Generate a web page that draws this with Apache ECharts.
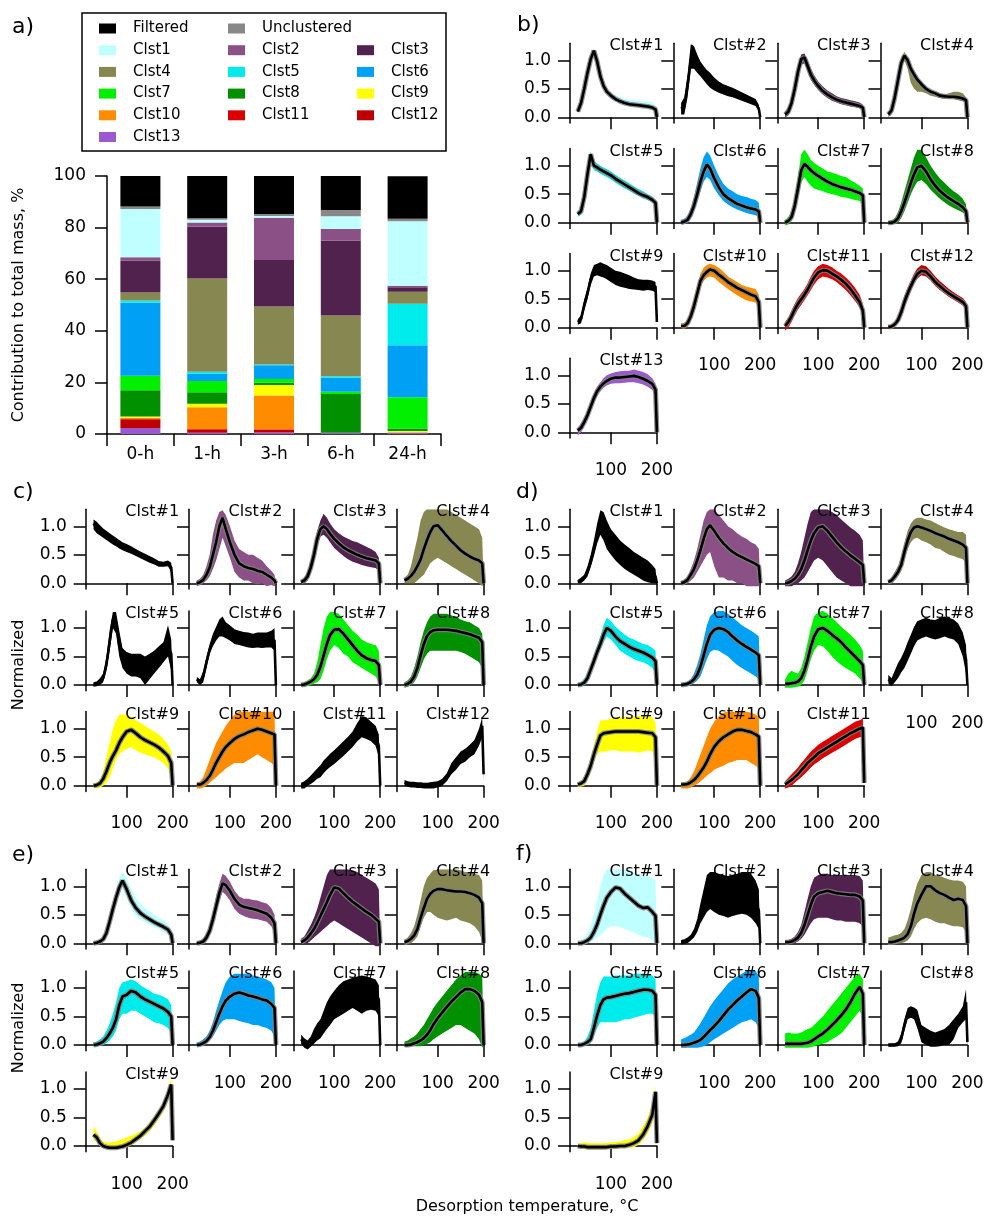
<!DOCTYPE html>
<html>
<head>
<meta charset="utf-8">
<title>Cluster contributions and thermograms</title>
<script src="https://cdn.jsdelivr.net/npm/echarts@6/dist/echarts.min.js"></script>
<style>
  html, body { margin: 0; padding: 0; background: #fff; }
  #chart { width: 989px; height: 1216px; }
</style>
</head>
<body>
<div id="chart"></div>
<script>
const FONT = 'DejaVu Sans';

// ---------- a) mass contributions (%) per sampling time ----------
const times = ['0-h', '1-h', '3-h', '6-h', '24-h'];
const shareClst13 = [2.3, 0.5, 0.6, 0.5, 0.5];
const shareClst12 = [3.2, 1.2, 1.0, 0, 0];
const shareClst11 = [0.3, 0.2, 0.2, 0, 0];
const shareClst10 = [0.5, 8.5, 13.1, 0, 0.2];
const shareClst9  = [0.5, 1.3, 4.1, 0, 0.5];
const shareClst8  = [10.2, 4.5, 0.9, 15.0, 0.9];
const shareClst7  = [5.6, 4.3, 1.4, 0.9, 12.1];
const shareClst6  = [28.3, 2.9, 5.3, 5.4, 20.2];
const shareClst5  = [0.8, 0.7, 0.3, 0.6, 16.1];
const shareClst4  = [3.1, 36.2, 22.5, 23.5, 4.6];
const shareClst3  = [12.4, 20.0, 18.0, 29.0, 1.8];
const shareClst2  = [1.3, 1.7, 16.4, 4.6, 0.6];
const shareClst1  = [18.7, 1.0, 0.7, 4.9, 25.0];
const shareUnclustered = [1.0, 0.6, 0.8, 2.4, 0.9];
const shareFiltered    = [11.8, 16.4, 14.7, 13.2, 16.5];

const K = '#000000';
const C1 = '#c0ffff', C2 = '#8b5086', C3 = '#52224f', C4 = '#878752', C5 = '#00ebeb',
      C6 = '#00a0f5', C7 = '#00f000', C8 = '#009000', C9 = '#ffff00', C10 = '#ff8c00',
      C11 = '#dd0000', C12 = '#c00000', C13 = '#9b59d0', CU = '#888888';

// stacking order, bottom to top
const stackNames  = ['Clst13','Clst12','Clst11','Clst10','Clst9','Clst8','Clst7','Clst6','Clst5','Clst4','Clst3','Clst2','Clst1','Unclustered','Filtered'];
const stackValues = [shareClst13, shareClst12, shareClst11, shareClst10, shareClst9, shareClst8, shareClst7, shareClst6, shareClst5, shareClst4, shareClst3, shareClst2, shareClst1, shareUnclustered, shareFiltered];
const stackColors = [C13, C12, C11, C10, C9, C8, C7, C6, C5, C4, C3, C2, C1, CU, K];

// ---------- b)-f) normalized thermograms ----------
// desorption temperature grid (°C)
const T = [28,35,42,49,56,63,70,77,84,91,100,110,120,130,140,150,160,170,180,190,197,200];

// b) smoothed signal, lower / upper envelope of the raw trace
const bMid = [
 [.1,.25,.5,.78,1.02,1.17,.98,.72,.55,.45,.38,.32,.28,.25,.23,.22,.21,.2,.19,.17,.14,0],
 [.15,.2,.55,1.0,1.05,.92,.85,.78,.7,.65,.58,.52,.48,.45,.42,.38,.35,.32,.28,.25,.15,0],
 [.05,.1,.25,.5,.8,1.02,1.05,.9,.75,.65,.55,.46,.4,.35,.31,.28,.26,.24,.22,.2,.17,0],
 [.05,.12,.35,.65,.95,1.08,1.0,.85,.75,.66,.58,.5,.45,.42,.38,.37,.36,.36,.35,.33,.3,0],
 [.15,.2,.45,.85,1.2,1.0,.97,.93,.9,.87,.83,.77,.72,.67,.62,.57,.52,.48,.45,.4,.35,0],
 [0,.02,.05,.15,.3,.5,.72,.9,1.02,.95,.78,.62,.5,.43,.38,.33,.3,.27,.25,.23,.2,0],
 [0,.03,.1,.3,.6,.92,1.03,.98,.92,.87,.82,.77,.72,.68,.65,.62,.6,.58,.55,.52,.48,0],
 [0,0,.02,.08,.2,.35,.52,.7,.85,.97,1.0,.9,.76,.65,.56,.49,.43,.38,.33,.27,.2,0],
 [.1,.15,.4,.6,.85,1.0,1.02,1.03,1.0,.98,.93,.88,.85,.82,.8,.78,.76,.75,.76,.75,.72,.1],
 [.03,.03,.08,.2,.38,.6,.82,.92,.98,1.02,1.0,.93,.87,.8,.75,.7,.66,.62,.58,.55,.45,0],
 [.03,.1,.2,.32,.42,.5,.58,.67,.78,.88,.97,1.01,1.0,.95,.9,.84,.77,.68,.57,.45,.3,0],
 [.01,.02,.06,.13,.27,.45,.6,.73,.85,.94,1.0,.98,.9,.8,.73,.66,.6,.55,.5,.45,.38,0],
 [.03,.08,.18,.3,.45,.6,.72,.8,.86,.9,.94,.96,.96,.97,.98,.99,.97,.94,.9,.85,.75,0]
];
const bLo = [
 [.05,.2,.45,.73,.97,1.12,.93,.68,.5,.41,.34,.29,.25,.22,.2,.19,.18,.17,.16,.14,.11,0],
 [.05,.05,.35,.85,.85,.78,.72,.65,.58,.52,.47,.43,.4,.37,.35,.32,.29,.26,.23,.2,.1,0],
 [0,.03,.15,.4,.7,.92,.95,.8,.66,.57,.48,.4,.34,.29,.26,.23,.21,.19,.18,.16,.13,0],
 [0,.05,.25,.55,.85,1.0,.85,.6,.5,.45,.45,.42,.38,.36,.34,.32,.32,.32,.3,.28,.25,0],
 [.1,.15,.4,.8,1.1,.92,.9,.86,.83,.8,.76,.7,.65,.6,.56,.51,.47,.43,.4,.36,.3,0],
 [-.03,-.02,0,.08,.2,.38,.55,.72,.8,.75,.6,.48,.38,.32,.27,.23,.2,.17,.15,.13,.1,0],
 [-.05,-.03,.03,.18,.45,.7,.8,.72,.65,.6,.58,.55,.52,.5,.48,.45,.44,.42,.4,.38,.3,0],
 [-.03,-.03,-.02,0,.08,.2,.35,.5,.62,.72,.75,.68,.58,.5,.42,.36,.3,.26,.22,.18,.12,0],
 [.05,.08,.3,.5,.75,.9,.92,.9,.88,.85,.8,.75,.72,.7,.68,.67,.66,.65,.66,.65,.62,.05],
 [0,-.02,.02,.12,.3,.5,.72,.82,.88,.9,.88,.8,.74,.68,.62,.57,.52,.48,.46,.44,.35,0],
 [-.05,0,.1,.22,.32,.4,.48,.57,.66,.76,.85,.9,.88,.85,.8,.73,.66,.57,.47,.36,.22,0],
 [-.02,-.02,.02,.08,.2,.37,.52,.65,.77,.86,.92,.9,.83,.73,.66,.6,.54,.49,.44,.39,.32,0],
 [-.05,0,.1,.22,.37,.52,.64,.72,.78,.82,.85,.86,.86,.87,.88,.88,.86,.84,.8,.74,.6,0]
];
const bHi = [
 [.15,.3,.55,.83,1.07,1.2,1.03,.78,.6,.5,.44,.39,.35,.32,.31,.3,.29,.28,.28,.27,.2,0],
 [.25,.35,.75,1.28,1.25,1.1,.98,.9,.83,.78,.7,.63,.58,.55,.52,.48,.44,.4,.36,.32,.22,0],
 [.1,.18,.35,.62,.92,1.1,1.12,1.0,.85,.74,.63,.54,.47,.42,.37,.34,.32,.3,.28,.26,.22,0],
 [.1,.18,.45,.75,1.05,1.15,1.05,.92,.8,.7,.6,.53,.48,.45,.42,.4,.42,.45,.45,.42,.35,0],
 [.2,.28,.52,.92,1.25,1.08,1.04,1.0,.97,.94,.9,.84,.79,.74,.69,.64,.59,.55,.5,.46,.4,0],
 [.05,.07,.12,.25,.45,.7,.95,1.15,1.25,1.18,1.0,.82,.68,.6,.55,.5,.47,.45,.42,.4,.35,0],
 [.05,.1,.2,.45,.8,1.2,1.28,1.2,1.1,1.05,1.0,.95,.9,.88,.85,.82,.8,.75,.7,.65,.6,0],
 [.03,.04,.08,.18,.35,.55,.75,.95,1.15,1.28,1.28,1.15,1.0,.88,.78,.7,.62,.55,.5,.42,.32,0],
 [.15,.22,.5,.7,.95,1.1,1.12,1.15,1.12,1.1,1.05,1.0,.98,.95,.92,.88,.85,.84,.84,.83,.8,.15],
 [.08,.08,.15,.3,.48,.72,.95,1.05,1.1,1.12,1.1,1.05,.98,.9,.85,.8,.75,.72,.7,.68,.58,0],
 [.1,.18,.3,.42,.52,.6,.68,.78,.9,1.0,1.08,1.12,1.1,1.06,1.0,.95,.88,.8,.7,.58,.42,0],
 [.04,.05,.1,.2,.35,.55,.7,.82,.95,1.04,1.1,1.08,1.0,.9,.82,.75,.68,.62,.57,.52,.45,0],
 [.08,.15,.25,.38,.53,.68,.8,.88,.95,1.0,1.03,1.06,1.07,1.08,1.08,1.1,1.08,1.06,1.02,.95,.85,0]
];
const bBand = [C1, K, C3, C4, C5, C6, C7, C8, K, C10, C11, C12, C13];

// c)
const cMid = [
 [1.05,.97,.92,.88,.84,.8,.75,.72,.68,.65,.62,.58,.54,.5,.46,.42,.38,.34,.33,.35,.28,0],
 [0,.02,.06,.15,.28,.5,.72,1.0,1.15,.95,.72,.5,.35,.3,.27,.25,.22,.2,.15,.1,.05,0],
 [.02,.05,.12,.28,.5,.78,.95,1.0,.95,.87,.78,.7,.63,.58,.54,.5,.47,.44,.42,.4,.35,0],
 [.05,.08,.13,.2,.3,.42,.6,.76,.9,1.0,1.02,.93,.83,.74,.66,.58,.52,.47,.43,.4,.35,0],
 [0,.02,.05,.12,.35,.75,1.15,1.1,.7,.48,.4,.38,.36,.35,.32,.35,.42,.5,.58,.7,.55,0],
 [.1,.05,.15,.4,.62,.78,.88,.98,1.0,.95,.9,.85,.82,.8,.8,.78,.8,.78,.8,.8,.78,0],
 [0,.01,.03,.06,.1,.18,.32,.52,.72,.88,.97,.98,.9,.8,.7,.6,.52,.47,.44,.42,.35,0],
 [0,.02,.06,.15,.3,.52,.72,.86,.93,.96,.97,.97,.97,.96,.95,.93,.91,.89,.86,.83,.75,0],
 [0,.01,.04,.12,.25,.4,.52,.62,.75,.85,.95,.98,.92,.85,.8,.76,.72,.67,.6,.52,.4,0],
 [.02,.02,.05,.1,.17,.28,.4,.5,.6,.68,.75,.82,.87,.9,.94,.97,1.0,.98,.95,.92,.9,0],
 [0,.02,.06,.1,.15,.2,.25,.32,.38,.44,.5,.57,.64,.72,.8,.92,1.02,1.0,.95,.88,.7,0],
 [.05,.03,.02,.02,.01,.01,0,0,0,0,.02,.05,.15,.3,.4,.5,.55,.62,.7,.85,1.05,.2]
];
const cLo = [
 [.95,.88,.84,.8,.76,.72,.68,.65,.61,.58,.55,.52,.48,.44,.4,.36,.33,.29,.29,.3,.2,0],
 [-.05,-.03,0,.05,.12,.25,.4,.6,.8,.65,.45,.2,.1,.05,.05,0,-.02,0,-.05,-.03,-.05,0],
 [-.02,0,.05,.18,.38,.65,.82,.85,.8,.72,.62,.55,.48,.42,.38,.35,.32,.3,.28,.27,.22,0],
 [0,0,0,0,.05,.1,.15,.25,.35,.4,.45,.4,.35,.3,.25,.2,.15,.1,.05,0,-.05,0],
 [-.03,-.02,0,.05,.25,.6,1.0,.9,.5,.3,.2,.15,.15,.12,0,.1,.2,.3,.4,.5,.25,0],
 [.05,0,.05,.3,.55,.68,.78,.85,.85,.82,.78,.72,.7,.68,.66,.65,.66,.65,.66,.66,.6,0],
 [-.03,-.03,-.02,0,.02,.05,.1,.25,.45,.6,.7,.65,.55,.5,.4,.35,.3,.25,.2,.15,.05,0],
 [-.05,-.03,0,.05,.15,.3,.45,.55,.6,.6,.6,.6,.6,.6,.6,.58,.55,.5,.45,.4,.3,0],
 [-.05,-.05,-.03,0,.05,.15,.3,.45,.55,.6,.65,.68,.62,.58,.55,.52,.5,.45,.4,.3,.15,0],
 [-.05,-.05,-.03,0,.05,.1,.15,.2,.25,.3,.35,.4,.4,.4,.45,.5,.55,.5,.45,.4,.35,0],
 [-.05,-.05,0,.03,.07,.12,.15,.22,.28,.33,.38,.45,.52,.6,.68,.78,.85,.82,.78,.7,.5,0],
 [0,-.02,-.03,-.03,-.04,-.04,-.05,-.05,-.05,-.05,-.03,0,.08,.2,.28,.38,.42,.5,.55,.7,.85,.1]
];
const cHi = [
 [1.12,1.08,1.02,.96,.92,.88,.84,.8,.76,.72,.69,.65,.6,.56,.52,.48,.44,.39,.38,.4,.36,0],
 [.05,.08,.15,.3,.5,.85,1.1,1.25,1.28,1.2,1.0,.75,.6,.55,.5,.5,.45,.4,.3,.22,.15,0],
 [.06,.1,.2,.4,.65,.92,1.1,1.22,1.15,1.05,.95,.88,.82,.78,.74,.72,.68,.64,.6,.55,.45,0],
 [.1,.15,.3,.55,.8,1.1,1.25,1.3,1.3,1.3,1.3,1.3,1.3,1.25,1.2,1.15,1.1,1.05,1.0,.95,.8,0],
 [.05,.06,.12,.2,.5,.95,1.28,1.28,.95,.65,.58,.55,.55,.55,.5,.55,.6,.68,.75,1.05,.8,0],
 [.14,.1,.25,.5,.72,.9,1.02,1.15,1.2,1.1,1.05,.98,.95,.93,.92,.9,.92,.92,.92,.95,1.0,0],
 [.03,.05,.08,.12,.2,.4,.7,1.0,1.2,1.28,1.28,1.25,1.15,1.05,.95,.88,.8,.75,.72,.7,.6,0],
 [.05,.08,.15,.3,.5,.75,.95,1.1,1.2,1.25,1.25,1.25,1.25,1.22,1.2,1.15,1.12,1.1,1.05,1.0,.9,0],
 [.04,.06,.1,.25,.5,.75,1.0,1.15,1.25,1.25,1.25,1.2,1.15,1.1,1.05,1.0,.95,.9,.82,.72,.6,0],
 [.05,.08,.15,.3,.45,.6,.75,.85,.95,1.05,1.15,1.25,1.3,1.3,1.3,1.3,1.3,1.3,1.3,1.3,1.3,0],
 [.05,.08,.12,.18,.24,.3,.36,.44,.5,.56,.62,.7,.78,.86,.95,1.1,1.22,1.2,1.12,1.05,.9,0],
 [.1,.08,.07,.07,.06,.06,.05,.05,.06,.07,.08,.12,.22,.4,.5,.6,.65,.72,.8,1.0,1.2,.3]
];
const cBand = [K, C2, C3, C4, K, K, C7, C8, C9, C10, K, K];

// d)
const dMid = [
 [.03,.05,.1,.2,.38,.6,.85,1.05,1.0,.88,.76,.65,.55,.48,.42,.36,.32,.28,.24,.18,.12,0],
 [0,.02,.06,.15,.25,.4,.58,.78,.95,1.02,.92,.8,.7,.62,.55,.5,.46,.42,.38,.34,.3,0],
 [0,.01,.04,.08,.15,.25,.4,.58,.75,.88,.98,1.0,.92,.82,.72,.63,.56,.49,.43,.37,.32,0],
 [.02,.05,.12,.2,.32,.55,.75,.9,.98,1.0,.98,.95,.92,.88,.85,.82,.78,.75,.72,.68,.62,0],
 [0,.01,.04,.12,.27,.42,.58,.72,.88,1.0,.95,.85,.77,.72,.67,.63,.6,.57,.53,.48,.42,0],
 [0,.01,.02,.05,.1,.18,.32,.52,.72,.88,.97,1.0,.98,.93,.85,.78,.72,.67,.62,.57,.52,0],
 [.02,.02,.03,.04,.06,.12,.25,.45,.68,.85,.98,1.0,.95,.88,.82,.75,.66,.58,.5,.42,.35,0],
 [.1,.05,.15,.25,.35,.45,.58,.72,.85,.95,.98,1.0,.98,.97,1.0,1.02,1.0,.98,.9,.72,.45,0],
 [.02,.04,.08,.2,.35,.55,.72,.88,.92,.93,.94,.95,.95,.95,.95,.95,.95,.94,.93,.92,.85,0],
 [.02,.02,.03,.06,.1,.16,.24,.32,.42,.55,.68,.78,.85,.9,.95,.98,.98,.96,.94,.9,.86,0],
 [.02,.06,.1,.15,.2,.27,.33,.4,.45,.5,.57,.62,.67,.72,.77,.82,.87,.92,.96,1.0,1.02,.05]
];
const dLo = [
 [0,0,.05,.12,.28,.48,.7,.85,.75,.6,.5,.4,.32,.25,.2,.15,.1,.05,.02,0,0,0],
 [-.03,-.02,0,.05,.1,.2,.3,.4,.5,.55,.3,.1,.1,.05,.05,0,0,-.05,-.05,-.05,-.05,0],
 [-.05,-.05,-.05,-.02,0,.05,.1,.2,.3,.4,.45,.4,.3,.2,.1,.05,0,-.05,-.05,-.05,-.05,0],
 [-.02,0,.05,.12,.22,.42,.6,.72,.78,.8,.75,.72,.68,.62,.6,.55,.5,.48,.45,.42,.35,0],
 [-.02,-.02,0,.06,.2,.35,.5,.62,.75,.85,.8,.7,.6,.55,.5,.45,.42,.4,.36,.3,.2,0],
 [-.03,-.03,-.02,0,.03,.08,.15,.3,.45,.58,.62,.6,.55,.5,.42,.35,.3,.25,.2,.15,.1,0],
 [-.05,-.05,-.05,-.04,-.03,0,.08,.25,.45,.6,.7,.68,.6,.5,.42,.35,.3,.25,.2,.12,.05,0],
 [.03,-.02,.05,.12,.22,.3,.42,.55,.68,.78,.82,.85,.82,.8,.82,.85,.82,.8,.72,.5,.2,0],
 [-.03,-.02,0,.1,.25,.42,.55,.6,.6,.6,.62,.62,.6,.6,.6,.6,.58,.6,.62,.6,.45,0],
 [-.05,-.05,-.05,-.03,0,.03,.08,.12,.18,.22,.28,.32,.35,.4,.42,.45,.45,.45,.4,.35,.3,0],
 [-.05,-.03,0,.05,.1,.15,.2,.26,.32,.37,.42,.48,.53,.58,.62,.67,.72,.77,.82,.85,.85,0]
];
const dHi = [
 [.06,.1,.15,.3,.5,.75,1.05,1.28,1.25,1.1,.95,.85,.75,.68,.62,.55,.5,.45,.4,.32,.25,0],
 [.04,.06,.12,.25,.4,.6,.85,1.1,1.25,1.3,1.3,1.2,1.1,1.0,.95,.88,.82,.78,.72,.68,.6,0],
 [.05,.08,.12,.2,.35,.55,.8,1.05,1.25,1.3,1.3,1.3,1.3,1.25,1.2,1.12,1.05,.98,.92,.85,.75,0],
 [.05,.1,.2,.3,.45,.7,.92,1.05,1.12,1.15,1.15,1.12,1.1,1.06,1.02,.98,.95,.92,.9,.9,.85,0],
 [.03,.05,.1,.2,.35,.5,.68,.85,1.05,1.18,1.12,1.02,.95,.88,.83,.8,.76,.72,.7,.65,.6,0],
 [.03,.04,.06,.1,.2,.35,.55,.8,1.05,1.2,1.28,1.3,1.3,1.25,1.18,1.12,1.05,1.0,.95,.9,.85,0],
 [.1,.2,.25,.22,.2,.3,.5,.75,1.0,1.2,1.28,1.3,1.25,1.18,1.1,1.02,.95,.88,.8,.7,.6,0],
 [.18,.12,.25,.38,.48,.6,.75,.88,1.02,1.12,1.15,1.18,1.15,1.14,1.18,1.2,1.18,1.15,1.08,.92,.7,0],
 [.06,.08,.15,.3,.48,.7,.95,1.15,1.15,1.15,1.18,1.2,1.2,1.2,1.2,1.22,1.22,1.25,1.25,1.2,1.1,0],
 [.05,.06,.08,.15,.25,.4,.55,.7,.85,1.0,1.12,1.22,1.28,1.3,1.3,1.3,1.3,1.3,1.28,1.25,1.2,0],
 [.08,.14,.2,.26,.32,.4,.46,.53,.6,.65,.72,.77,.82,.87,.92,.97,1.02,1.07,1.12,1.15,1.18,.1]
];
const dBand = [K, C2, C3, C4, C5, C6, C7, K, C9, C10, C11];

// e)
const eMid = [
 [0,.01,.03,.07,.18,.38,.6,.8,.98,1.1,.95,.75,.62,.53,.47,.42,.37,.33,.29,.24,.15,0],
 [0,.01,.03,.1,.22,.42,.65,.88,1.05,1.02,.92,.78,.68,.64,.62,.6,.58,.55,.52,.45,.35,0],
 [.02,.05,.1,.17,.25,.36,.48,.6,.72,.85,.98,.96,.88,.8,.73,.67,.61,.55,.5,.43,.38,0],
 [.02,.04,.08,.14,.25,.45,.62,.78,.87,.92,.95,.95,.93,.92,.91,.91,.9,.88,.85,.8,.7,0],
 [0,.01,.03,.06,.12,.2,.3,.45,.7,.85,.88,.95,.92,.85,.8,.76,.72,.68,.64,.58,.5,0],
 [0,.01,.03,.07,.14,.25,.4,.55,.68,.78,.85,.9,.92,.9,.87,.85,.83,.8,.78,.72,.65,0],
 [.1,.02,-.02,.05,.15,.22,.28,.4,.5,.6,.72,.8,.88,.93,.97,1.0,1.02,.98,.95,.9,.8,0],
 [0,0,.01,.03,.05,.08,.12,.18,.26,.36,.47,.57,.67,.76,.84,.92,.98,.98,.95,.88,.75,0],
 [.2,.15,.05,0,-.02,-.03,-.03,-.03,-.02,-.01,.02,.06,.12,.18,.26,.34,.45,.57,.7,.9,1.08,.1]
];
const eLo = [
 [-.02,-.02,0,.03,.12,.3,.5,.68,.85,.95,.8,.6,.48,.42,.37,.33,.28,.25,.2,.15,.05,0],
 [-.02,-.02,0,.05,.15,.32,.55,.75,.9,.85,.75,.6,.52,.48,.45,.43,.42,.4,.38,.3,.2,0],
 [-.03,-.02,0,.05,.1,.15,.2,.25,.3,.35,.4,.35,.3,.25,.2,.15,.1,.05,0,-.05,-.05,0],
 [-.03,-.02,0,.05,.12,.3,.45,.55,.55,.5,.45,.42,.4,.42,.45,.4,.38,.35,.3,.2,.05,0],
 [-.03,-.02,-.01,0,.03,.08,.15,.25,.45,.55,.55,.6,.6,.55,.5,.45,.4,.38,.35,.3,.2,0],
 [-.03,-.02,0,.03,.08,.15,.25,.35,.42,.45,.45,.45,.42,.4,.38,.35,.35,.32,.3,.25,.15,0],
 [.02,-.05,-.08,-.03,.02,.08,.12,.2,.28,.35,.45,.5,.55,.6,.65,.6,.55,.6,.62,.6,.5,0],
 [-.03,-.03,-.02,-.02,-.02,-.02,0,.02,.05,.1,.15,.2,.25,.3,.35,.35,.3,.25,.2,.1,-.05,0],
 [.1,.08,0,-.04,-.05,-.06,-.06,-.06,-.05,-.04,-.02,.02,.06,.12,.18,.26,.36,.48,.6,.78,.95,0]
];
const eHi = [
 [.03,.04,.06,.12,.25,.48,.72,.95,1.15,1.25,1.15,.95,.8,.7,.62,.56,.5,.45,.4,.34,.25,0],
 [.03,.05,.08,.18,.3,.55,.82,1.05,1.22,1.18,1.08,.92,.82,.78,.78,.76,.75,.72,.7,.62,.5,0],
 [.08,.12,.22,.32,.45,.6,.8,1.0,1.2,1.3,1.3,1.3,1.3,1.3,1.28,1.25,1.2,1.15,1.1,1.05,.95,0],
 [.06,.1,.18,.3,.5,.75,1.0,1.15,1.22,1.28,1.3,1.3,1.3,1.3,1.3,1.28,1.25,1.25,1.22,1.2,1.1,0],
 [.04,.06,.1,.15,.25,.38,.55,.75,1.0,1.1,1.12,1.15,1.12,1.05,1.0,.95,.9,.88,.85,.8,.7,0],
 [.04,.06,.1,.15,.25,.4,.6,.78,.95,1.1,1.2,1.25,1.25,1.25,1.25,1.22,1.2,1.18,1.15,1.1,1.0,0],
 [.18,.12,.08,.15,.28,.38,.45,.6,.75,.85,.95,1.05,1.12,1.15,1.18,1.2,1.22,1.2,1.18,1.15,1.05,0],
 [.06,.08,.12,.15,.2,.28,.35,.45,.55,.65,.75,.85,.95,1.05,1.15,1.22,1.28,1.28,1.28,1.25,1.2,0],
 [.35,.25,.15,.08,.06,.06,.07,.08,.1,.12,.15,.18,.22,.26,.32,.42,.52,.64,.78,1.0,1.2,.2]
];
const eBand = [C1, C2, C3, C4, C5, C6, K, C8, C9];

// f)
const fMid = [
 [0,0,.02,.05,.1,.2,.33,.5,.66,.8,.9,.98,.96,.87,.8,.73,.66,.62,.63,.55,.48,0],
 [.02,.03,.05,.1,.17,.3,.5,.65,.85,.95,.9,.85,.82,.78,.8,.82,.85,.86,.82,.72,.58,0],
 [.02,.02,.03,.06,.1,.18,.32,.5,.68,.82,.88,.9,.92,.9,.88,.87,.86,.85,.85,.82,.75,0],
 [.02,.02,.03,.05,.07,.1,.16,.3,.52,.7,.85,1.0,1.0,.93,.88,.85,.8,.76,.78,.76,.65,0],
 [0,0,.02,.05,.1,.3,.52,.7,.8,.83,.84,.86,.88,.9,.91,.93,.95,.97,.97,.95,.88,0],
 [0,0,.01,.02,.04,.06,.09,.14,.2,.26,.33,.42,.52,.62,.7,.78,.85,.92,.98,.95,.82,0],
 [.02,.02,.02,.02,.02,.02,.03,.04,.06,.1,.15,.2,.27,.35,.43,.52,.62,.75,.9,1.02,.9,0],
 [0,0,0,.02,.1,.35,.55,.6,.58,.5,.2,.12,.1,.08,.1,.12,.15,.25,.42,.55,.75,.05],
 [0,-.01,-.01,-.02,-.02,-.02,-.02,-.02,-.02,-.02,-.01,-.01,0,0,.02,.05,.1,.2,.35,.55,.95,.05]
];
const fLo = [
 [-.03,-.03,-.02,0,.02,.05,.1,.15,.2,.25,.3,.3,.28,.25,.22,.2,.15,.12,.1,.05,0,0],
 [-.02,-.01,0,.05,.1,.2,.35,.45,.55,.6,.55,.5,.48,.45,.48,.5,.52,.5,.45,.35,.25,0],
 [-.03,-.03,-.02,0,.03,.08,.15,.25,.35,.42,.45,.45,.45,.42,.4,.4,.38,.38,.38,.35,.3,0],
 [-.03,-.03,-.02,-.01,0,.02,.05,.12,.25,.35,.42,.45,.42,.38,.35,.35,.32,.3,.3,.28,.2,0],
 [-.02,-.02,-.01,0,.03,.15,.3,.4,.4,.4,.4,.4,.42,.45,.45,.48,.5,.52,.55,.55,.5,0],
 [-.05,-.05,-.05,-.05,-.05,-.05,-.04,-.02,0,.05,.1,.15,.2,.25,.3,.35,.4,.42,.45,.4,.3,0],
 [-.05,-.05,-.05,-.05,-.05,-.05,-.05,-.05,-.04,-.02,0,.02,.05,.1,.15,.2,.3,.4,.5,.6,.5,0],
 [-.03,-.03,-.03,-.02,.03,.25,.45,.48,.45,.3,.05,0,-.03,-.03,-.02,0,0,.1,.3,.4,.45,0],
 [-.04,-.05,-.05,-.06,-.06,-.06,-.06,-.06,-.06,-.05,-.05,-.05,-.04,-.04,-.03,-.02,.02,.1,.22,.4,.6,0]
];
const fHi = [
 [.05,.06,.1,.18,.3,.5,.75,1.0,1.2,1.3,1.3,1.3,1.3,1.3,1.28,1.25,1.22,1.2,1.18,1.15,1.1,0],
 [.06,.07,.1,.15,.25,.42,.7,.95,1.2,1.25,1.25,1.22,1.2,1.18,1.2,1.22,1.25,1.25,1.22,1.1,.95,0],
 [.05,.06,.08,.12,.2,.32,.55,.78,1.0,1.15,1.2,1.22,1.22,1.2,1.2,1.2,1.2,1.2,1.2,1.18,1.1,0],
 [.1,.12,.14,.15,.18,.25,.4,.6,.85,1.05,1.2,1.25,1.25,1.2,1.18,1.15,1.12,1.1,1.1,1.08,1.0,0],
 [.03,.04,.06,.15,.3,.6,.9,1.1,1.2,1.2,1.2,1.22,1.22,1.22,1.22,1.25,1.25,1.25,1.25,1.22,1.15,0],
 [.1,.12,.15,.18,.22,.3,.38,.48,.58,.68,.78,.88,.98,1.08,1.15,1.2,1.25,1.3,1.3,1.3,1.2,0],
 [.2,.22,.2,.2,.2,.22,.25,.28,.3,.35,.42,.5,.6,.7,.8,.9,1.0,1.1,1.2,1.25,1.15,0],
 [.03,.03,.03,.06,.2,.45,.65,.68,.66,.62,.35,.3,.25,.22,.25,.28,.35,.45,.55,.68,.98,.1],
 [.04,.05,.06,.06,.05,.05,.05,.05,.05,.06,.06,.07,.08,.1,.12,.16,.22,.35,.5,.75,1.05,.1]
];
const fBand = [C1, K, C3, C4, C5, C6, C7, K, C9];

// axis ticks
const tempTicks = [100, 200];
const normTicks = [0, 0.5, 1];

// ---------- layout of the small multiples (px) ----------
const PX_PER_UNIT = 57;
const PLOT_W = 86.9;
const T_MIN = 11;
const colsRight = [570, 673.3, 777.3, 880.5];
const colsLeft  = [85.7, 189, 293.3, 396.7];
const rowsB  = [117.3, 222.7, 327.7, 432.3];
const rowsCD = [583.3, 685, 785.7];
const rowsEF = [943.3, 1045, 1146];

const grids = [], xAxes = [], yAxes = [], series = [], titles = [];
const axisLine = { color: '#000', width: 1.5 };
const labelStyle = { color: '#000', fontSize: 17, fontFamily: FONT };

// a) stacked bars
grids.push({ left: 107, top: 176, width: 334, height: 258, outerBoundsMode: 'none' });
xAxes.push({
  gridIndex: 0, type: 'category', data: times,
  axisLine: { lineStyle: axisLine },
  axisTick: { show: true, length: 12, alignWithLabel: false, lineStyle: axisLine },
  axisLabel: Object.assign({ margin: 12 }, labelStyle),
  splitLine: { show: false }
});
yAxes.push({
  gridIndex: 0, type: 'value', min: 0, max: 100, interval: 20,
  axisLine: { show: true, lineStyle: axisLine },
  axisTick: { show: true, length: 12, lineStyle: axisLine },
  axisLabel: Object.assign({ margin: 21 }, labelStyle),
  splitLine: { show: false },
  name: 'Contribution to total mass, %', nameLocation: 'middle', nameGap: 80,
  nameTextStyle: { color: '#000', fontSize: 16, fontFamily: FONT }
});
stackNames.forEach((name, i) => {
  series.push({
    name, type: 'bar', stack: 'mass', xAxisIndex: 0, yAxisIndex: 0,
    barWidth: 40, data: stackValues[i],
    itemStyle: { color: stackColors[i] }, silent: true
  });
});

function addPanel(cols, rows, mids, los, his, bands) {
  const n = mids.length;
  mids.forEach((mid, i) => {
    const lo = los[i], hi = his[i];
    const col = i % 4, row = Math.floor(i / 4);
    const left = cols[col];
    const top = rows[row] - 1.3 * PX_PER_UNIT;
    const gi = grids.length;
    const showTemp = i + 4 >= n;
    grids.push({ left, top, width: PLOT_W, height: 1.4 * PX_PER_UNIT, outerBoundsMode: 'none' });
    xAxes.push({
      gridIndex: gi, type: 'value', min: T_MIN, max: 200,
      axisLine: { onZero: true, lineStyle: axisLine },
      axisTick: { show: true, length: 12, customValues: tempTicks, lineStyle: axisLine },
      axisLabel: Object.assign({ show: showTemp, customValues: tempTicks, margin: 24 }, labelStyle),
      splitLine: { show: false }
    });
    yAxes.push({
      gridIndex: gi, type: 'value', min: -0.1, max: 1.3,
      axisLine: { show: true, onZero: false, lineStyle: axisLine },
      axisTick: { show: true, length: 12, customValues: normTicks, lineStyle: axisLine },
      axisLabel: Object.assign({ show: col === 0, customValues: normTicks, margin: 19, formatter: v => v.toFixed(1) }, labelStyle),
      splitLine: { show: false }
    });
    // raw-trace envelope
    series.push({
      type: 'custom', xAxisIndex: gi, yAxisIndex: gi, silent: true, clip: true, z: 1,
      data: [[T_MIN, 0]],
      renderItem: (params, api) => {
        const pts = [];
        for (let k = 0; k < T.length; k++) pts.push(api.coord([T[k], hi[k]]));
        for (let k = T.length - 1; k >= 0; k--) pts.push(api.coord([T[k], lo[k]]));
        return { type: 'polygon', shape: { points: pts }, style: { fill: bands[i] } };
      }
    });
    const line = T.map((t, k) => [t, mid[k]]);
    // uncertainty halo of the smoothed curve (not visible over black traces)
    if (bands[i] !== K) {
      series.push({
        type: 'line', xAxisIndex: gi, yAxisIndex: gi, data: line, symbol: 'none', silent: true, z: 2,
        lineStyle: { color: 'rgba(128,128,128,0.85)', width: 5 }
      });
    }
    series.push({
      type: 'line', xAxisIndex: gi, yAxisIndex: gi, data: line, symbol: 'none', silent: true, z: 3,
      lineStyle: { color: '#000', width: 2.6 }
    });
    titles.push({
      text: 'Clst#' + (i + 1), right: 989 - (left + PLOT_W + 6.5), top: top - 5, padding: 0,
      textStyle: { color: '#000', fontSize: 16, fontWeight: 'normal', fontFamily: FONT }
    });
  });
}

addPanel(colsRight, rowsB, bMid, bLo, bHi, bBand);
addPanel(colsLeft, rowsCD, cMid, cLo, cHi, cBand);
addPanel(colsRight, rowsCD, dMid, dLo, dHi, dBand);
addPanel(colsLeft, rowsEF, eMid, eLo, eHi, eBand);
addPanel(colsRight, rowsEF, fMid, fLo, fHi, fBand);

const legendBase = {
  orient: 'vertical', padding: 0, itemWidth: 17, itemHeight: 10, itemGap: 5.7,
  icon: 'rect', selectedMode: false,
  textStyle: { color: '#000', fontSize: 15, fontFamily: FONT, lineHeight: 16, padding: [0, 0, 0, 12] }
};
const legends = [
  Object.assign({ left: 99, top: 20.5, data: ['Filtered', 'Clst1', 'Clst4', 'Clst7', 'Clst10', 'Clst13'] }, legendBase),
  Object.assign({ left: 228, top: 20.5, data: ['Unclustered', 'Clst2', 'Clst5', 'Clst8', 'Clst11'] }, legendBase),
  Object.assign({ left: 357, top: 42.2, data: ['Clst3', 'Clst6', 'Clst9', 'Clst12'] }, legendBase)
];

const letter = (t, x, y) => ({ type: 'text', left: x, top: y, style: { text: t, font: '22px "DejaVu Sans"', fill: '#000' } });

const option = {
  animation: false,
  textStyle: { fontFamily: FONT },
  title: titles,
  legend: legends,
  grid: grids,
  xAxis: xAxes,
  yAxis: yAxes,
  series: series,
  graphic: [
    { type: 'rect', shape: { x: 82, y: 13, width: 364, height: 138 }, style: { fill: 'none', stroke: '#000', lineWidth: 1.5 } },
    letter('a)', 12, 16), letter('b)', 517, 14), letter('c)', 13, 481),
    letter('d)', 516, 481), letter('e)', 12, 844), letter('f)', 516, 843),
    { type: 'text', x: 18.5, y: 665, rotation: Math.PI / 2,
      style: { text: 'Normalized', font: '16px "DejaVu Sans"', fill: '#000', align: 'center', verticalAlign: 'middle' } },
    { type: 'text', x: 18.5, y: 1028, rotation: Math.PI / 2,
      style: { text: 'Normalized', font: '16px "DejaVu Sans"', fill: '#000', align: 'center', verticalAlign: 'middle' } },
    { type: 'text', x: 527, y: 1207,
      style: { text: 'Desorption temperature, °C', font: '16px "DejaVu Sans"', fill: '#000', align: 'center', verticalAlign: 'middle' } }
  ]
};

const chart = echarts.init(document.getElementById('chart'), null, { renderer: 'canvas' });
chart.setOption(option);
</script>
</body>
</html>
